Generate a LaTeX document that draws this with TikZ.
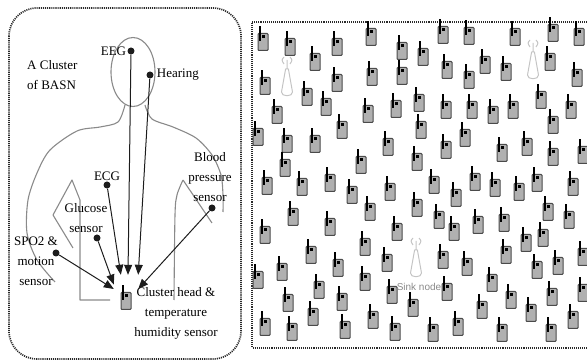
\documentclass[tikz,border=0pt]{standalone}
\usepackage{fontspec}
\setmainfont{Liberation Serif}
\newfontfamily\sinkfont{Liberation Sans}
\usetikzlibrary{arrows.meta,positioning}
\definecolor{WsnInk}{HTML}{1C1C1C}
\definecolor{WsnFrame}{HTML}{2A2A2A}
\definecolor{WsnBody}{HTML}{8A8A8A}
\definecolor{WsnMote}{HTML}{B0B0B0}
\definecolor{WsnEdge}{HTML}{4A4A4A}
\definecolor{WsnTower}{HTML}{C4C4C4}
\definecolor{WsnMuted}{HTML}{8A8A8A}

\tikzset{
  frame/.style={WsnFrame,line width=1.7pt,dash pattern=on 1.1pt off 1pt},
  bodyline/.style={WsnBody,line width=1.1pt,line join=round},
  sdot/.style={circle,fill=WsnInk,inner sep=0pt,minimum size=7pt},
  lbl/.style={font=\fontsize{13}{20}\selectfont,inner sep=1pt,align=center},
  feed/.style={WsnInk,line width=1pt,-{Triangle[length=10pt,width=8pt]}},
  % one body sensor: grey case, antenna on the left, led on top
  mote/.pic={
    \draw[WsnEdge,fill=WsnMote,line width=1pt,rounded corners=0.8pt]
      (-5,-8.5) rectangle (5,8.5);
    \draw[black,line width=1.9pt] (-3.3,-15.5) -- (-3.3,-1);
    \fill[black] (-1.3,-6.6) rectangle (1.7,-3.6);
  },
  % base station mast with radio waves
  tower/.pic={
    \draw[WsnTower,line width=1pt,line join=round]
      (-1.4,-11) -- (-5.5,12) .. controls (-6,17) and (6,17) .. (5.5,12)
      -- (1.4,-11) -- cycle
      (0,-11) -- (0,-20)
      (-3,-23) .. controls (-5.5,-20) .. (-3,-16)
      (3,-23) .. controls (5.5,-20) .. (3,-16);
  }
}

\begin{document}
\begin{tikzpicture}[x=1pt,y=-1pt]
  \useasboundingbox (0,0) rectangle (587,363);

  % left panel: one cluster on the body
  \draw[frame,rounded corners=28pt] (9,8) rectangle (241,359);
  \draw[bodyline] (133,72) ellipse (22 and 34.5);
  \draw[bodyline] plot[smooth] coordinates {(125,105) (118,122) (100,127)
    (77,131) (50,150) (37,173) (28,200) (27,233) (37,260) (55,282)};
  \draw[bodyline] (73,248) -- (53,215) -- (72,180) -- (80,200) -- (80,300)
    -- (110,300);
  \draw[bodyline] plot[smooth] coordinates {(145,105) (152,119) (173,127)
    (196,138) (212,155) (221,175) (223,195) (223,212)};
  \draw[bodyline] (212,223) -- (183,180);
  \draw[bodyline] plot[smooth] coordinates {(183,180) (177,195) (175,215)
    (174,300)};

  \node[lbl,align=left,anchor=west] (basn) at (26,75) {A Cluster\\of BASN};

  \pic at (126,301) {mote};
  \node[minimum width=24pt,minimum height=28pt,inner sep=0pt] (ch) at (126,289) {};
  \node[lbl] (chl) at (176,313) {Cluster head \&\\temperature\\humidity sensor};

  \node[sdot] (eeg) at (131,51) {};
  \node[lbl,left=0pt of eeg] (eegl) {EEG};
  \node[sdot] (hear) at (150,75) {};
  \node[lbl,right=2pt of hear] (hearl) {Hearing};
  \node[sdot] (ecg) at (107,185) {};
  \node[lbl,above=-1pt of ecg] (ecgl) {ECG};
  \node[sdot] (glu) at (97,238) {};
  \node[lbl] (glul) at (86,218) {Glucose\\sensor};
  \node[sdot] (spo) at (56,253) {};
  \node[lbl] (spol) at (36,261) {SPO2 \&\\motion\\sensor};
  \node[sdot] (bp) at (212,208) {};
  \node[lbl] (bpl) at (210,177) {Blood\\pressure\\sensor};

  \draw[feed] (eeg) -- ([xshift=2pt]ch.north);
  \draw[feed] (hear) -- (ch.north east);
  \draw[feed] (ecg) -- (ch.110);
  \draw[feed] (glu) -- (ch.160);
  \draw[feed] (spo) -- (ch.west);
  \draw[feed] (bp) -- (ch.east);

  % right panel: field of clusters around the sink
  \draw[frame] (587,22) -- (252,22) -- (252,348) -- (587,348);
  \foreach \x/\y in {263/42, 290/47, 315/62, 337/47, 371/37, 402/51, 423/57,
      265/86, 307/97, 326/107, 337/83, 372/77, 402/76,
      277/115, 368/114, 396/109, 419/103,
      258/137, 287/144, 315/144, 342/130, 388/147, 421/130,
      361/165, 417/162, 285/168,
      267/186, 302/187, 330/183, 352/195, 370/212, 390/192, 417/208,
      293/217, 330/227, 265/235, 397/232, 365/247, 311/255, 387/263,
      338/268, 282/272, 258/280, 365/282, 319/290, 392/295, 288/303,
      342/302, 413/308, 313/317, 373/320, 265/327, 292/332, 345/330, 395/332,
      443/35, 469/36, 515/37, 553/33, 579/37, 447/70, 485/65, 506/72,
      550/62, 469/80, 577/78,
      446/110, 472/110, 493/115, 513/110, 541/100, 571/110, 553/125,
      465/138, 446/150, 502/153, 527/147, 553/157, 583/155,
      434/185, 456/198, 475/182, 495/188, 519/192, 537/183, 573/187,
      439/220, 454/232, 478/225, 504/223, 548/212, 569/220, 526/243,
      543/238, 443/260, 467/267, 506/255, 537/270, 558/266, 583/257,
      492/283, 447/292, 552/297, 583/293, 511/300, 482/310, 531/313,
      573/320, 458/327, 433/333, 502/333, 551/333}
    \pic at (\x,\y) {mote};

  \pic at (287,80) {tower};
  \pic at (533,63) {tower};
  \pic at (416,261) {tower};
  \node[WsnMuted,font=\sinkfont\fontsize{10}{12}\selectfont,inner sep=0pt]
    (sink) at (419,287) {Sink node};
\end{tikzpicture}
\end{document}
